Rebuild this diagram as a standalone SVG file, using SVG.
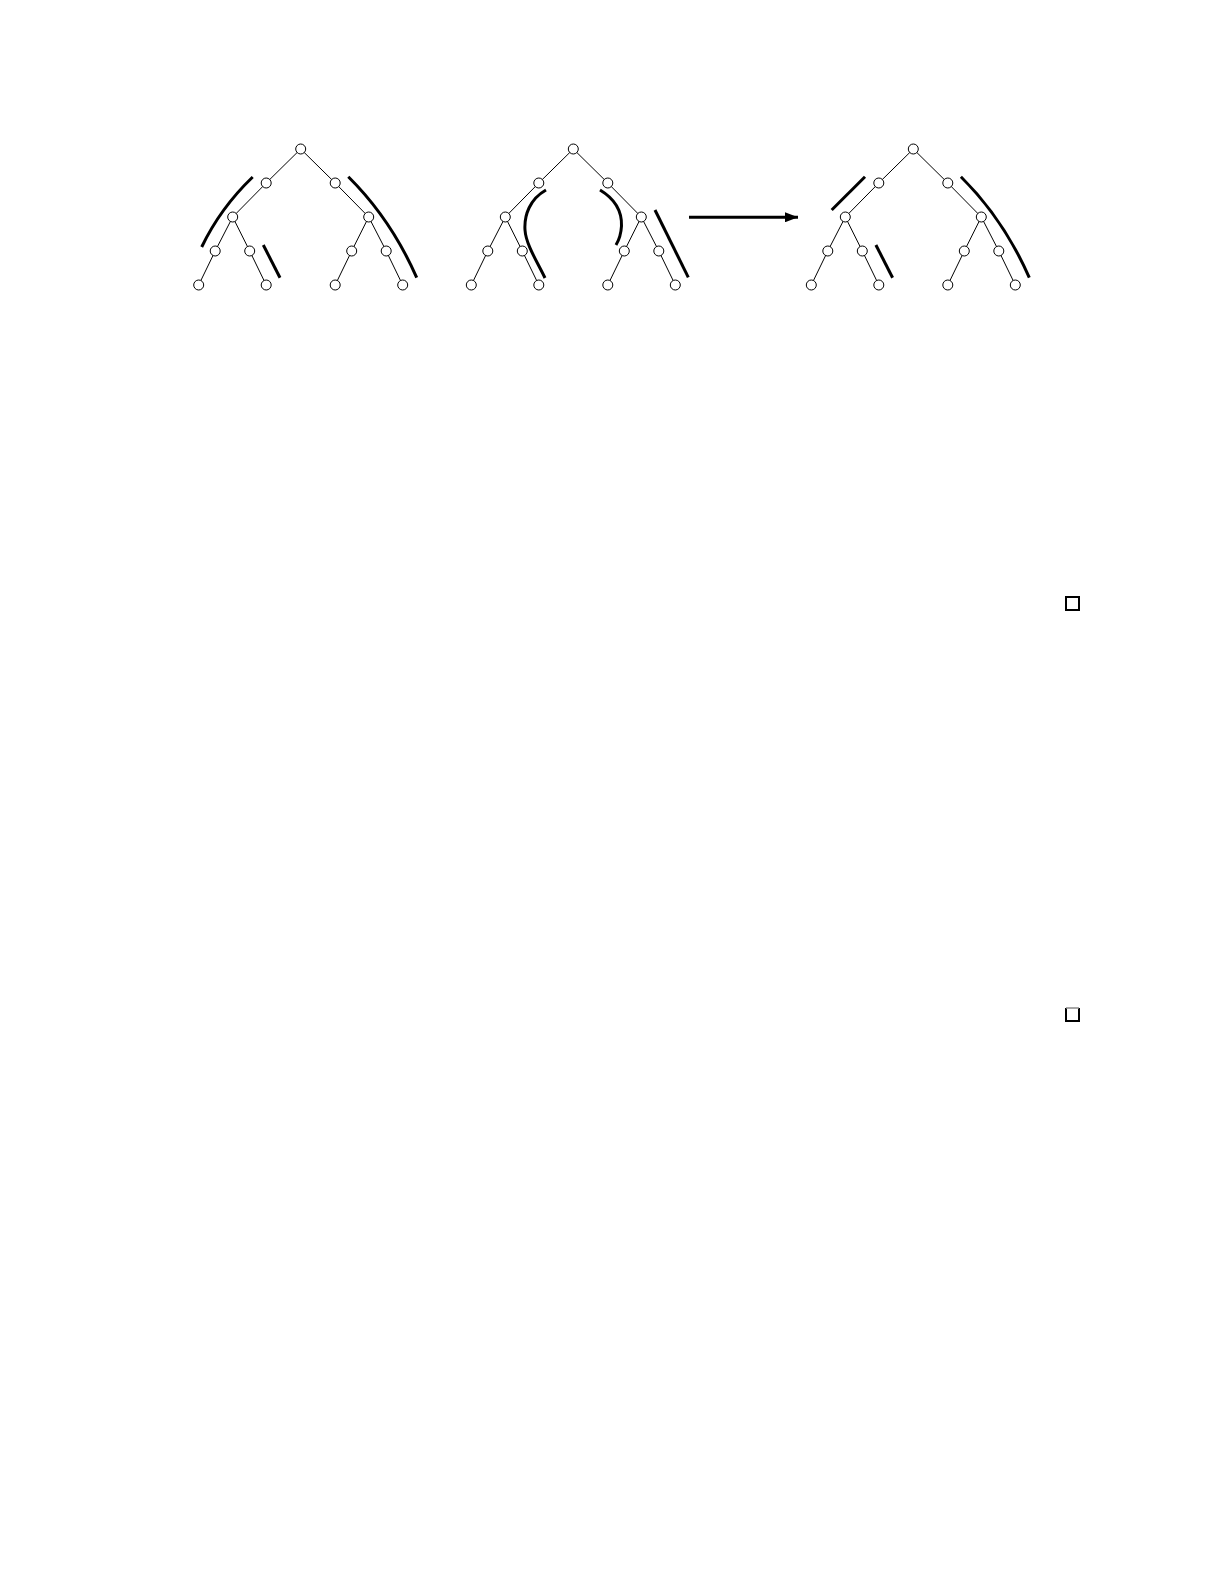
<svg xmlns="http://www.w3.org/2000/svg" width="1225" height="1585" viewBox="0 0 1225 1585">
<defs>
<style>
.edge{stroke:#000;stroke-width:1;fill:none}
.node circle{fill:#fff;stroke:#000;stroke-width:1}
.mark{stroke:#000;stroke-width:3;fill:none;stroke-linecap:butt}
</style>
<marker id="ah" markerWidth="13" markerHeight="10" refX="13" refY="5" orient="auto" markerUnits="userSpaceOnUse">
<path d="M0,0 L13,5 L0,10 Z" fill="#000"/>
</marker>
<g id="edges">
<path class="edge" d="M0,149 L-34.5,183 L-68,217 L-85.5,251 L-102,285 M-68,217 L-51,251 L-34.5,285 M0,149 L34.5,183 L68,217 L85.5,251 L102,285 M68,217 L51,251 L34.5,285"/>
</g>
</defs>
<rect width="1225" height="1585" fill="#fff"/>

<g id="connectors">
<use href="#edges" transform="translate(300.7 0)"/>
<use href="#edges" transform="translate(573.3 0)"/>
<use href="#edges" transform="translate(913.3 0)"/>
<line x1="689" y1="217.3" x2="798" y2="217.3" stroke="#000" stroke-width="3" marker-end="url(#ah)"/>
</g>

<g id="tree1-nodes" class="node" transform="translate(300.7 0)">
<g id="t1-r"><circle cx="0" cy="149" r="5"/></g>
<g id="t1-a"><circle cx="-34.5" cy="183" r="5"/></g>
<g id="t1-b"><circle cx="34.5" cy="183" r="5"/></g>
<g id="t1-c"><circle cx="-68" cy="217" r="5"/></g>
<g id="t1-d"><circle cx="68" cy="217" r="5"/></g>
<g id="t1-e"><circle cx="-85.5" cy="251" r="5"/></g>
<g id="t1-f"><circle cx="-51" cy="251" r="5"/></g>
<g id="t1-g"><circle cx="51" cy="251" r="5"/></g>
<g id="t1-h"><circle cx="85.5" cy="251" r="5"/></g>
<g id="t1-l1"><circle cx="-102" cy="285" r="5"/></g>
<g id="t1-l2"><circle cx="-34.5" cy="285" r="5"/></g>
<g id="t1-l3"><circle cx="34.5" cy="285" r="5"/></g>
<g id="t1-l4"><circle cx="102" cy="285" r="5"/></g>
</g>
<g id="tree2-nodes" class="node" transform="translate(573.3 0)">
<g id="t2-r"><circle cx="0" cy="149" r="5"/></g>
<g id="t2-a"><circle cx="-34.5" cy="183" r="5"/></g>
<g id="t2-b"><circle cx="34.5" cy="183" r="5"/></g>
<g id="t2-c"><circle cx="-68" cy="217" r="5"/></g>
<g id="t2-d"><circle cx="68" cy="217" r="5"/></g>
<g id="t2-e"><circle cx="-85.5" cy="251" r="5"/></g>
<g id="t2-f"><circle cx="-51" cy="251" r="5"/></g>
<g id="t2-g"><circle cx="51" cy="251" r="5"/></g>
<g id="t2-h"><circle cx="85.5" cy="251" r="5"/></g>
<g id="t2-l1"><circle cx="-102" cy="285" r="5"/></g>
<g id="t2-l2"><circle cx="-34.5" cy="285" r="5"/></g>
<g id="t2-l3"><circle cx="34.5" cy="285" r="5"/></g>
<g id="t2-l4"><circle cx="102" cy="285" r="5"/></g>
</g>
<g id="tree3-nodes" class="node" transform="translate(913.3 0)">
<g id="t3-r"><circle cx="0" cy="149" r="5"/></g>
<g id="t3-a"><circle cx="-34.5" cy="183" r="5"/></g>
<g id="t3-b"><circle cx="34.5" cy="183" r="5"/></g>
<g id="t3-c"><circle cx="-68" cy="217" r="5"/></g>
<g id="t3-d"><circle cx="68" cy="217" r="5"/></g>
<g id="t3-e"><circle cx="-85.5" cy="251" r="5"/></g>
<g id="t3-f"><circle cx="-51" cy="251" r="5"/></g>
<g id="t3-g"><circle cx="51" cy="251" r="5"/></g>
<g id="t3-h"><circle cx="85.5" cy="251" r="5"/></g>
<g id="t3-l1"><circle cx="-102" cy="285" r="5"/></g>
<g id="t3-l2"><circle cx="-34.5" cy="285" r="5"/></g>
<g id="t3-l3"><circle cx="34.5" cy="285" r="5"/></g>
<g id="t3-l4"><circle cx="102" cy="285" r="5"/></g>
</g>

<g id="marks">
<path class="mark" d="M252.7,177 Q220.4,208 201.7,247"/>
<line class="mark" x1="263.3" y1="245" x2="280" y2="277.7"/>
<path class="mark" d="M348.3,176.7 Q391,219 416.7,277.7"/>

<path class="mark" d="M546,190 C530,199 524,215 525,230 C526,245 538,263 545,278"/>
<path class="mark" d="M600,190 C615,199 622,212 621.5,226 C621,235 619,240 616,245"/>
<line class="mark" x1="655" y1="210" x2="688.3" y2="277.3"/>

<line class="mark" x1="865" y1="176.7" x2="831.7" y2="210"/>
<line class="mark" x1="875.9" y1="245" x2="892.6" y2="277.7"/>
<path class="mark" d="M960.9,176.7 Q1003.6,219 1029.3,277.7"/>
</g>

<g id="qed1"><rect x="1066" y="597" width="13" height="13" fill="none" stroke="#000" stroke-width="2"/></g>
<g id="qed2">
<path d="M1066,1008 L1066,1021 L1079,1021 L1079,1008" fill="none" stroke="#000" stroke-width="2"/>
<line x1="1066" y1="1008" x2="1079" y2="1008" stroke="#888" stroke-width="1.5"/>
</g>
</svg>
